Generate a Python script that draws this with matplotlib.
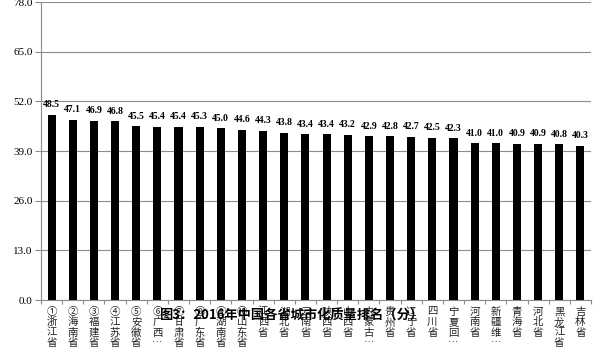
import matplotlib
matplotlib.use("Agg")
import matplotlib.pyplot as plt
import numpy as np

provinces = ["①浙江省", "②海南省", "③福建省", "④江苏省", "⑤安徽省", "⑥广西…",
             "⑦甘肃省", "⑧广东省", "⑨湖南省", "⑩山东省", "江西省", "湖北省",
             "云南省", "陕西省", "山西省", "内蒙古…", "贵州省", "辽宁省", "四川省",
             "宁夏回…", "河南省", "新疆维…", "青海省", "河北省", "黑龙江省", "吉林省"]
scores = [48.5, 47.1, 46.9, 46.8, 45.5, 45.4, 45.4, 45.3, 45.0, 44.6, 44.3, 43.8,
          43.4, 43.4, 43.2, 42.9, 42.8, 42.7, 42.5, 42.3, 41.0, 41.0, 40.9, 40.9,
          40.8, 40.3]
yticks = [0, 13, 26, 39, 52, 65, 78]
title = "图3：2016年中国各省城市化质量排名（分）"

cjk = ["Noto Sans CJK SC", "DejaVu Sans"]
serif = ["Liberation Serif", "DejaVu Serif"]

fig = plt.figure(figsize=(6.07, 3.6), dpi=100)
ax = fig.add_axes([41/607, 60/360, 550/607, 298/360])

x = np.arange(len(scores))
ax.bar(x, scores, width=0.38, color="black", zorder=3)
ax.set_xlim(-0.5, len(scores) - 0.5)
ax.set_ylim(0, 78)
ax.set_yticks(yticks)
ax.set_yticklabels([f"{v:.1f}" for v in yticks], fontfamily=serif, fontsize=8)
ax.yaxis.grid(True, color="#8c8c8c", linewidth=0.8, zorder=0)
ax.tick_params(axis="y", length=4, color="#8c8c8c", pad=2)

ax.set_xticks(np.arange(len(scores) + 1) - 0.5)
ax.set_xticklabels([])
ax.tick_params(axis="x", length=3, color="#8c8c8c")

for s in ["top", "right"]:
    ax.spines[s].set_visible(False)
for s in ["left", "bottom"]:
    ax.spines[s].set_color("#8c8c8c")

for xi, v in zip(x, scores):
    ax.annotate(f"{v:.1f}", (xi, v), xytext=(0, 4), textcoords="offset points",
                ha="center", va="bottom", fontsize=7, fontweight="bold",
                fontfamily=serif)

for xi, name in zip(x, provinces):
    ax.annotate("\n".join(name), (xi, 0), xytext=(0, -5), textcoords="offset points",
                ha="center", va="top", fontsize=7.5, fontfamily=cjk,
                linespacing=1.05, color="#222222")

fig.text(291/607, 1 - 316/360, title, ha="center", va="center",
         fontsize=9.5, fontweight="bold", fontfamily=cjk)

fig.savefig("out.png", dpi=100)
